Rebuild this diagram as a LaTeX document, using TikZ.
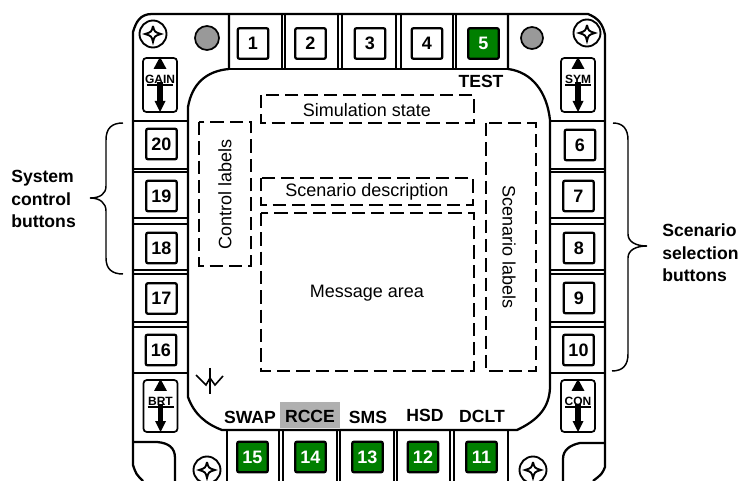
\documentclass[tikz,border=0pt]{standalone}
\usepackage{fontspec}
\usepackage{xcolor}
\setmainfont{Liberation Sans}
\definecolor{btngreen}{HTML}{007F00}
\definecolor{ledgray}{HTML}{999999}
\definecolor{capgray}{HTML}{B0B0B0}
\tikzset{
  panel/.style={line width=1.7pt,line join=round},
  dashbox/.style={line width=1.8pt,dash pattern=on 10pt off 4.5pt},
  btn/.style={draw,line width=1.7pt,rounded corners=1.5pt,inner sep=0pt,minimum width=23pt,minimum height=23pt,font=\fontsize{13.5}{15}\selectfont\bfseries},
  btnon/.style={btn,fill=btngreen,text=white},
  mode/.style={inner sep=0pt,font=\fontsize{13.2}{15}\selectfont\bfseries},
  lbl/.style={inner sep=0pt,font=\fontsize{13.5}{15}\selectfont},
  side/.style={inner sep=0pt,align=left,font=\fontsize{13.2}{17}\selectfont\bfseries},
  bracebar/.style={line width=1.1pt}
}
\begin{document}
\begin{tikzpicture}[x=0.75pt,y=-0.75pt]
  \useasboundingbox (0,0) rectangle (740,481);
  % bezel
  \draw[panel] (143,481) .. controls (136,474) .. (133,465) -- (133,32) .. controls (136,22) and (140,14) .. (152,14)
    -- (588,14) .. controls (598,18) and (603,24) .. (605,35) -- (605,467) .. controls (602,474) .. (593,481);
  \draw[panel] (229,14) -- (229,69) .. controls (206,71) and (192,84) .. (188,107) -- (188,397) .. controls (194,414) and (206,424) .. (222,430)
    -- (517,430) .. controls (538,420) and (549,408) .. (550,388) -- (550,120) .. controls (547,92) and (532,72) .. (508,69) -- (508,14);
  \draw[panel] (229,69) -- (508,69);
  \draw[panel] (227,430) -- (227,481); \draw[panel] (508,430) -- (508,481);
  \draw[panel] (133,442) -- (157,442) .. controls (169,443) and (175,448) .. (175,458) -- (175,481);
  \draw[panel] (605,443) -- (580,443) .. controls (570,445) and (563,450) .. (563,459) -- (563,481);
  % separators
  \foreach \x in {282,285,338,342,396,401,453,456} \draw[line width=1.3pt] (\x,14) -- (\x,69);
  \foreach \x in {279,283,337,340,394,397,450,454} \draw[line width=1.3pt] (\x,430) -- (\x,481);
  \foreach \y in {121,169,172,218,224,270,274,322,327,373} {
    \draw[line width=1.3pt] (133,\y) -- (188,\y);
    \draw[line width=1.3pt] (550,\y) -- (605,\y);
  }
  % buttons
  \foreach \n/\x/\y in {1/253/43.5,2/310.5/43.5,3/370/43.5,4/427/43.5,20/161.5/144,19/161.5/196,18/161.5/248,17/161.5/298.5,16/161/350,6/580/145,7/578.5/196,8/579/248,9/579/298,10/578.5/350}
    \node[btn] (b\n) at (\x,\y) {\n};
  \foreach \n/\x/\y in {5/483.5/43.5,15/252.5/457,14/310.5/457,13/367.5/457,12/423/457,11/481.5/457}
    \node[btnon] (b\n) at (\x,\y) {\n};
  % lamps
  \fill[ledgray,draw=black,line width=1.3pt] (207,38) circle (12);
  \fill[ledgray,draw=black,line width=1.3pt] (532,38) circle (11);
  % screws
  \foreach \x/\y in {153/34,587/33,207/470,533/470} {
    \begin{scope}[shift={(\x,\y)}]
      \draw[line width=1.4pt] (0,0) circle (13.5);
      \draw[line width=1.4pt] (0,-8) .. controls (1.5,-2) .. (8,0) .. controls (1.5,2) .. (0,8) .. controls (-1.5,2) .. (-8,0) .. controls (-1.5,-2) .. (0,-8);
    \end{scope}
  }
  % rockers
  \foreach \n/\x/\y/\t/\b in {gain/160/58/GAIN/54,sym/578/58/SYM/54,brt/160.5/380/BRT/52,con/578/380/CON/52} {
    \begin{scope}[shift={(\x,\y)}]
      \draw[line width=1.3pt,rounded corners=2.5pt] (-17,0) rectangle (17,\b);
      \fill (0,-1) -- (6.5,11) -- (-6.5,11) -- cycle;
      \draw[line width=4.2pt] (0,24) -- (0,\b-8);
      \fill (0,\b) -- (5.5,\b-11) -- (-5.5,\b-11) -- cycle;
      \draw[line width=0.9pt] (-13,27) -- (13,27);
      \node[inner sep=0pt,font=\fontsize{9}{10}\selectfont\bfseries] (\n) at (0,21.5) {\t};
    \end{scope}
  }
  % captions
  \node[mode] (test) at (481,81) {TEST};
  \fill[capgray] (280,402) rectangle (340,428);
  \node[mode] (swap) at (250,417) {SWAP};
  \node[mode] (rcce) at (310,416) {RCCE};
  \node[mode] (sms) at (368,417) {SMS};
  \node[mode] (hsd) at (425,415) {HSD};
  \node[mode] (dclt) at (482,416) {DCLT};
  % display areas
  \draw[dashbox] (261,95) rectangle (474,123);
  \node[lbl] (simstate) at (367,110) {Simulation state};
  \draw[dashbox] (199,122) rectangle (251,266);
  \node[lbl,rotate=90] (ctrllabels) at (225,194) {Control labels};
  \draw[dashbox] (486,123) rectangle (536,371);
  \node[lbl,rotate=-90] (scenlabels) at (509,247) {Scenario labels};
  \draw[dashbox] (261,178) rectangle (473,205);
  \node[lbl] (scendesc) at (367,192) {Scenario description};
  \draw[dashbox] (261,213) rectangle (474,371);
  \node[lbl] (msgarea) at (367,293) {Message area};
  % waveform
  \draw[line width=1.2pt] (196,375) -- (206,385) -- (210,378) -- (215,385) -- (223,376);
  \draw[line width=1.2pt] (210,368) -- (210,394);
  % braces
  \draw[bracebar] (123,123) .. controls (112,123) and (106,128) .. (106,140) -- (106,186) .. controls (106,194) and (100,198) .. (90,198)
    .. controls (100,198) and (106,203) .. (106,211) -- (106,258) .. controls (106,269) and (112,274) .. (123,274);
  \draw[bracebar] (613,123) .. controls (623,123) and (628,129) .. (628,140) -- (628,234) .. controls (628,242) and (636,246) .. (647,246)
    .. controls (636,246) and (628,250) .. (628,258) -- (628,354) .. controls (628,365) and (623,371) .. (612,371);
  \node[side,anchor=west] (sysbtns) at (11,199) {System\\control\\buttons};
  \node[side,anchor=west] (scenbtns) at (662,253) {Scenario\\selection\\buttons};
\end{tikzpicture}
\end{document}
